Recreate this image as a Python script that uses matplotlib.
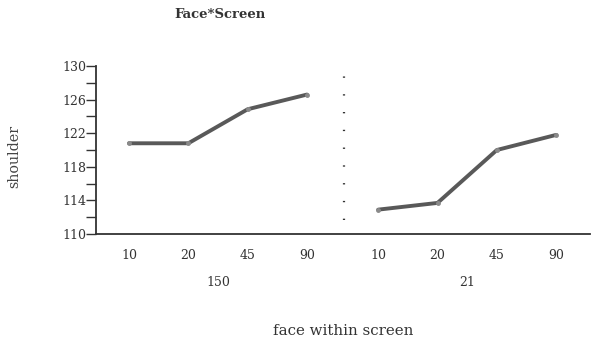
import matplotlib
matplotlib.use("Agg")
import matplotlib.pyplot as plt
import numpy as np

# Mean shoulder measurement by face within screen
screens = ["150", "21"]
faces = ["10", "20", "45", "90"]
shoulder_150 = [120.8, 120.8, 124.85, 126.6]
shoulder_21 = [112.9, 113.7, 120.0, 121.8]
y_ticks = [110, 114, 118, 122, 126, 130]

plt.rcParams["font.family"] = ["DejaVu Serif"]
ink = "#333333"
line_color = "#595959"
fs = 9

fig = plt.figure(figsize=(5.92, 3.39), dpi=100)
ax = fig.add_axes([96 / 592, 1 - 234 / 339, (590 - 96) / 592, 168 / 339])

group_gap = 1.2
x1 = np.arange(len(faces))
x2 = x1 + x1[-1] + group_gap

for xs, ys in ((x1, shoulder_150), (x2, shoulder_21)):
    ax.plot(xs, ys, color=line_color, lw=2.8, solid_capstyle="round",
            solid_joinstyle="round", marker="o", ms=2.5,
            mfc="#8a8a8a", mec="#8a8a8a", zorder=3)

# dotted separator between the two screen groups
sep_x = (x1[-1] + x2[0]) / 2 + 0.03
ax.plot([sep_x, sep_x], [111.7, 129.2], color=ink, lw=1.6,
        linestyle=(0, (0.6, 7.4)), dash_capstyle="butt")

ax.set_xlim(-0.556, 7.77)
ax.set_ylim(110, 130)
ax.set_yticks(y_ticks)
ax.set_yticks(np.arange(110, 131, 2), minor=True)
ax.tick_params(axis="y", which="both", direction="out", length=7, width=1,
               color=ink, labelsize=fs, labelcolor=ink, pad=0)
ax.set_xticks(np.concatenate([x1, x2]))
ax.set_xticklabels(faces + faces)
ax.tick_params(axis="x", length=0, labelsize=fs, labelcolor=ink, pad=11)

for s in ("top", "right"):
    ax.spines[s].set_visible(False)
for s in ("left", "bottom"):
    ax.spines[s].set_color(ink)
    ax.spines[s].set_linewidth(1.3)

for xs, name in ((x1, screens[0]), (x2, screens[1])):
    ax.text(xs.mean(), -0.29, name, transform=ax.get_xaxis_transform(),
            ha="center", va="center", fontsize=fs, color=ink)

fig.text(220 / 592, 1 - 14 / 339, "Face*Screen", ha="center", va="center",
         fontsize=9.5, fontweight="bold", color=ink)
fig.text(14 / 592, 1 - 156 / 339, "shoulder", rotation=90, ha="center",
         va="center", fontsize=10.3, color="#444444")
fig.text(343 / 592, 1 - 331 / 339, "face within screen", ha="center",
         va="center", fontsize=10.8, color=ink)

fig.savefig("out.png", dpi=100, facecolor="white")
